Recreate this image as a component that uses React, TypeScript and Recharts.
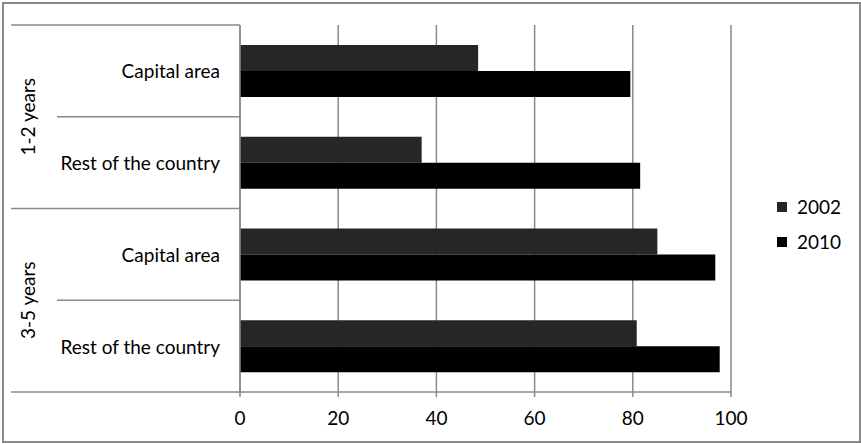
import React from "react";
import { Bar, BarChart, CartesianGrid, Legend, XAxis, YAxis } from "recharts";

const categories = ["Capital area", "Rest of the country", "Capital area", "Rest of the country"];
const groups = ["1-2 years", "1-2 years", "3-5 years", "3-5 years"];
const values2002 = [48.5, 37, 85, 80.8];
const values2010 = [79.5, 81.5, 96.8, 97.7];
const xTicks = [0, 20, 40, 60, 80, 100];
const seriesNames = ["2002", "2010"];

const W = 861;
const H = 444;
const MARGIN = { top: 25, right: 130, bottom: 12, left: 0 };
const Y_AXIS_W = 240;
const X_AXIS_H = 40;
const BAND = (H - MARGIN.top - MARGIN.bottom - X_AXIS_H) / categories.length;

const FONT = "Lato, 'Open Sans', sans-serif";
const FONT_SIZE = 19;
const LINE = "#8a8a8a";
const C2002 = "#262626";
const C2010 = "#000000";

const data = categories.map((c, i) => ({
  key: `${groups[i]}|${c}`,
  v2002: values2002[i],
  v2010: values2010[i],
}));

function CategoryTick(props: any) {
  const { y, index } = props;
  const half = BAND / 2;
  const axisX = MARGIN.left + Y_AXIS_W;
  const first = index === 0 || groups[index - 1] !== groups[index];
  const last = index === categories.length - 1;
  const groupCount = groups.filter((g) => g === groups[index]).length;
  const groupCenter = y - half + (BAND * groupCount) / 2;
  return (
    <g>
      <text
        x={axisX - 20}
        y={y}
        textAnchor="end"
        dominantBaseline="central"
        fontFamily={FONT}
        fontSize={FONT_SIZE}
        fill="#000"
      >
        {categories[index]}
      </text>
      <line x1={first ? 11 : 57} x2={axisX} y1={y - half} y2={y - half} stroke={LINE} strokeWidth={1.5} />
      {last && <line x1={11} x2={axisX} y1={y + half} y2={y + half} stroke={LINE} strokeWidth={1.5} />}
      {first && (
        <text
          x={27}
          y={groupCenter}
          transform={`rotate(-90 27 ${groupCenter})`}
          textAnchor="middle"
          dominantBaseline="central"
          fontFamily={FONT}
          fontSize={FONT_SIZE}
          fill="#000"
        >
          {groups[index]}
        </text>
      )}
    </g>
  );
}

function LegendBox() {
  const colors = [C2002, C2010];
  return (
    <div style={{ fontFamily: FONT, fontSize: FONT_SIZE, color: "#000" }}>
      {seriesNames.map((name, i) => (
        <div key={name} style={{ display: "flex", alignItems: "center", height: 35 }}>
          <span style={{ width: 10, height: 10, background: colors[i], marginRight: 10 }} />
          <span>{name}</span>
        </div>
      ))}
    </div>
  );
}

export default function App() {
  return (
    <div style={{ position: "absolute", left: 0, top: 0, width: W, height: H, background: "#fff" }}>
      <BarChart
        width={W}
        height={H}
        data={data}
        layout="vertical"
        margin={MARGIN}
        barSize={26}
        barGap={0}
      >
        <CartesianGrid horizontal={false} stroke={LINE} strokeWidth={1.5} />
        <XAxis
          type="number"
          domain={[0, 100]}
          ticks={xTicks}
          height={X_AXIS_H}
          axisLine={{ stroke: LINE, strokeWidth: 1.5 }}
          tickLine={{ stroke: LINE, strokeWidth: 1.5 }}
          tickSize={5}
          tickMargin={15}
          tick={{ fontFamily: FONT, fontSize: FONT_SIZE, fill: "#000" }}
        />
        <YAxis
          type="category"
          dataKey="key"
          width={Y_AXIS_W}
          axisLine={{ stroke: LINE, strokeWidth: 1.5 }}
          tickLine={false}
          tick={<CategoryTick />}
          interval={0}
        />
        <Legend
          layout="vertical"
          align="center"
          verticalAlign="middle"
          content={<LegendBox />}
          wrapperStyle={{ left: 777, top: 189, width: 80 }}
        />
        <Bar dataKey="v2002" name="2002" fill={C2002} isAnimationActive={false} />
        <Bar dataKey="v2010" name="2010" fill={C2010} isAnimationActive={false} />
      </BarChart>
      <div
        style={{
          position: "absolute",
          left: 2,
          top: 2,
          width: W - 6,
          height: H - 7,
          border: `2px solid ${LINE}`,
          pointerEvents: "none",
        }}
      />
    </div>
  );
}
